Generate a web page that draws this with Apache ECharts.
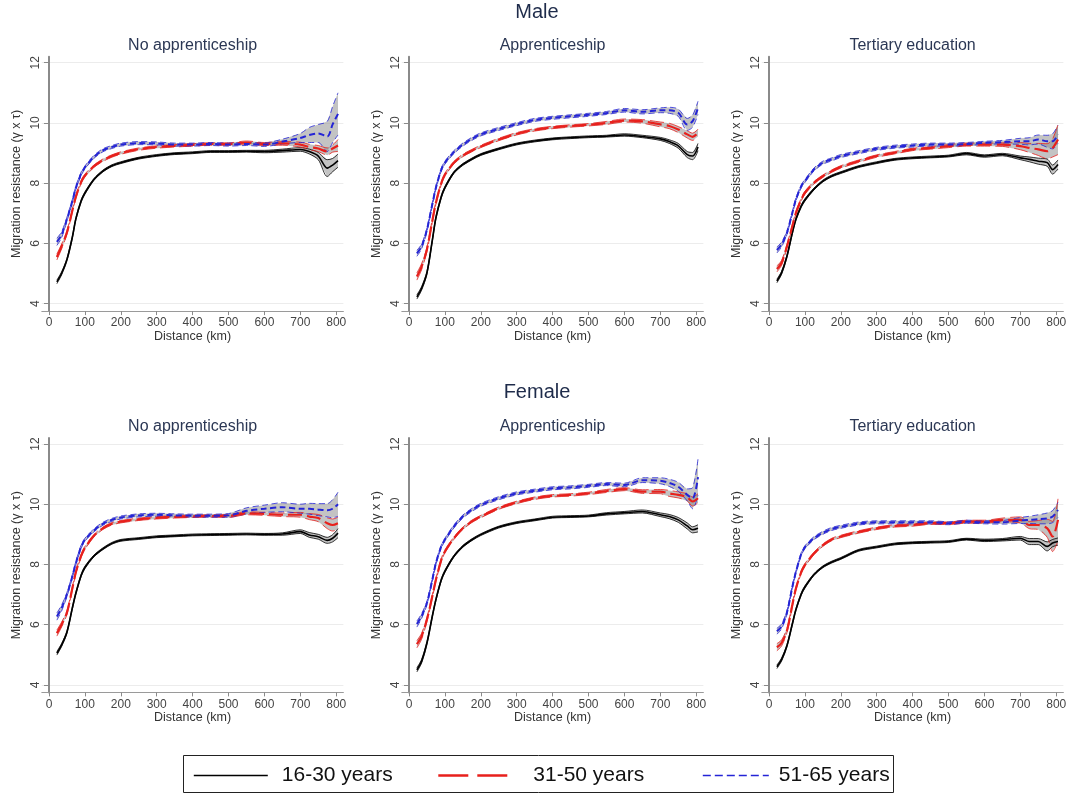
<!DOCTYPE html>
<html><head><meta charset="utf-8">
<script src="https://cdn.jsdelivr.net/npm/echarts@6/dist/echarts.min.js"></script>
<style>html,body{margin:0;padding:0;background:#fff}#c{width:1074px;height:797px}</style>
</head><body><div id="c"></div>
<script>
// ---------- data ----------
const distance = [22,35,50,65,75,90,100,125,150,175,200,250,300,350,400,450,500,550,600,650,700,725,750,775,790,805];
const xTicks = [0,100,200,300,400,500,600,700,800];
const yTicks = [4,6,8,10,12];
const sexTitles = ['Male','Female'];
const eduTitles = ['No apprenticeship','Apprenticeship','Tertiary education'];
const ageGroups = ['16-30 years','31-50 years','51-65 years'];

// Male, no apprenticeship
const m_noapp_16_30 = [4.72,5.0,5.46,6.2,6.82,7.42,7.67,8.12,8.4,8.58,8.68,8.83,8.92,8.98,9.01,9.05,9.05,9.06,9.05,9.08,9.12,9.05,8.9,8.5,8.6,8.75];
const m_noapp_16_30_ci = [0.06,0.05,0.04,0.04,0.04,0.04,0.04,0.03,0.03,0.03,0.03,0.03,0.03,0.03,0.03,0.03,0.03,0.03,0.04,0.05,0.06,0.08,0.12,0.28,0.22,0.22];
const m_noapp_31_50 = [5.55,5.89,6.36,7.08,7.55,8.05,8.25,8.56,8.76,8.9,9.0,9.13,9.2,9.24,9.27,9.3,9.3,9.35,9.3,9.32,9.28,9.2,9.15,9.05,9.15,9.25];
const m_noapp_31_50_ci = [0.1,0.08,0.06,0.05,0.05,0.05,0.05,0.04,0.04,0.04,0.04,0.04,0.04,0.04,0.04,0.04,0.04,0.05,0.05,0.06,0.08,0.09,0.1,0.12,0.12,0.2];
const m_noapp_51_65 = [6.05,6.28,6.8,7.4,7.85,8.32,8.52,8.87,9.09,9.2,9.28,9.33,9.32,9.28,9.28,9.3,9.28,9.3,9.28,9.38,9.5,9.6,9.65,9.55,9.95,10.3];
const m_noapp_51_65_ci = [0.12,0.1,0.07,0.06,0.06,0.06,0.05,0.05,0.05,0.05,0.05,0.05,0.05,0.05,0.05,0.05,0.05,0.05,0.06,0.08,0.15,0.25,0.3,0.5,0.6,0.7];

// Male, apprenticeship
const m_app_16_30 = [4.22,4.5,5.02,6.1,6.85,7.55,7.85,8.35,8.62,8.8,8.95,9.14,9.3,9.4,9.47,9.51,9.54,9.56,9.6,9.55,9.47,9.38,9.24,8.95,8.9,9.2];
const m_app_16_30_ci = [0.07,0.06,0.05,0.04,0.04,0.04,0.04,0.03,0.03,0.03,0.03,0.03,0.03,0.03,0.03,0.03,0.03,0.03,0.04,0.04,0.05,0.06,0.08,0.1,0.12,0.12];
const m_app_31_50 = [4.9,5.22,5.8,6.75,7.35,8.0,8.28,8.68,8.92,9.08,9.22,9.45,9.64,9.77,9.85,9.9,9.94,10.0,10.08,10.05,9.95,9.9,9.78,9.62,9.54,9.67];
const m_app_31_50_ci = [0.12,0.1,0.07,0.06,0.05,0.05,0.05,0.04,0.04,0.04,0.04,0.04,0.04,0.04,0.04,0.04,0.04,0.05,0.05,0.06,0.08,0.09,0.1,0.12,0.12,0.12];
const m_app_51_65 = [5.67,5.89,6.45,7.3,7.85,8.45,8.68,9.03,9.28,9.47,9.62,9.8,9.96,10.1,10.17,10.22,10.27,10.33,10.42,10.37,10.42,10.42,10.34,9.95,10.06,10.5];
const m_app_51_65_ci = [0.1,0.08,0.06,0.05,0.05,0.05,0.05,0.05,0.05,0.05,0.05,0.05,0.05,0.05,0.05,0.05,0.05,0.05,0.06,0.07,0.08,0.1,0.12,0.2,0.2,0.22];

// Male, tertiary education
const m_ter_16_30 = [4.75,5.02,5.57,6.35,6.8,7.24,7.44,7.8,8.07,8.24,8.35,8.55,8.68,8.79,8.84,8.87,8.9,8.98,8.9,8.95,8.84,8.79,8.73,8.68,8.45,8.62];
const m_ter_16_30_ci = [0.06,0.05,0.04,0.04,0.04,0.04,0.04,0.03,0.03,0.03,0.03,0.03,0.03,0.03,0.03,0.03,0.03,0.04,0.04,0.04,0.06,0.08,0.1,0.12,0.15,0.15];
const m_ter_31_50 = [5.15,5.35,5.9,6.57,7.01,7.46,7.68,8.01,8.23,8.4,8.54,8.73,8.9,9.01,9.12,9.17,9.23,9.28,9.28,9.28,9.23,9.17,9.12,9.06,9.17,9.45];
const m_ter_31_50_ci = [0.1,0.08,0.06,0.05,0.05,0.05,0.05,0.04,0.04,0.04,0.04,0.04,0.04,0.04,0.04,0.04,0.05,0.05,0.05,0.06,0.12,0.15,0.2,0.25,0.3,0.5];
const m_ter_51_65 = [5.78,5.96,6.35,7.01,7.46,7.9,8.07,8.45,8.68,8.79,8.9,9.03,9.14,9.21,9.25,9.28,9.28,9.3,9.34,9.36,9.39,9.39,9.45,9.39,9.39,9.62];
const m_ter_51_65_ci = [0.1,0.08,0.06,0.05,0.05,0.05,0.05,0.05,0.05,0.05,0.05,0.05,0.05,0.05,0.05,0.05,0.05,0.05,0.05,0.06,0.1,0.12,0.15,0.2,0.25,0.3];

// Female, no apprenticeship
const f_noapp_16_30 = [5.05,5.32,5.75,6.55,7.05,7.65,7.9,8.28,8.52,8.7,8.8,8.86,8.92,8.95,8.98,8.99,9.0,9.01,9.0,9.01,9.09,8.98,8.92,8.8,8.87,9.04];
const f_noapp_16_30_ci = [0.06,0.05,0.04,0.04,0.04,0.04,0.04,0.03,0.03,0.03,0.03,0.03,0.03,0.03,0.03,0.03,0.03,0.03,0.03,0.04,0.06,0.08,0.08,0.1,0.12,0.15];
const f_noapp_31_50 = [5.72,6.0,6.4,7.2,7.75,8.3,8.55,8.95,9.2,9.35,9.42,9.5,9.55,9.58,9.6,9.61,9.61,9.7,9.68,9.65,9.65,9.59,9.54,9.37,9.31,9.37];
const f_noapp_31_50_ci = [0.1,0.08,0.06,0.05,0.05,0.05,0.05,0.04,0.04,0.04,0.04,0.04,0.04,0.04,0.04,0.04,0.05,0.05,0.05,0.06,0.08,0.1,0.12,0.18,0.2,0.2];
const f_noapp_51_65 = [6.27,6.55,7.0,7.6,8.05,8.6,8.82,9.13,9.35,9.48,9.56,9.63,9.65,9.63,9.62,9.62,9.63,9.78,9.85,9.9,9.85,9.85,9.82,9.8,9.85,10.0];
const f_noapp_51_65_ci = [0.12,0.1,0.07,0.06,0.06,0.06,0.05,0.05,0.05,0.05,0.05,0.05,0.05,0.05,0.05,0.05,0.06,0.1,0.12,0.15,0.15,0.18,0.2,0.22,0.3,0.4];

// Female, apprenticeship
const f_app_16_30 = [4.5,4.78,5.39,6.28,6.83,7.49,7.77,8.27,8.6,8.82,8.99,9.24,9.39,9.48,9.57,9.59,9.61,9.68,9.72,9.76,9.65,9.59,9.48,9.28,9.15,9.2];
const f_app_16_30_ci = [0.07,0.06,0.05,0.04,0.04,0.04,0.04,0.03,0.03,0.03,0.03,0.03,0.03,0.03,0.03,0.03,0.03,0.04,0.04,0.05,0.06,0.07,0.08,0.1,0.1,0.12];
const f_app_31_50 = [5.35,5.61,6.17,6.94,7.49,8.15,8.43,8.87,9.2,9.43,9.59,9.87,10.06,10.2,10.28,10.31,10.36,10.44,10.5,10.42,10.42,10.36,10.31,10.23,10.09,10.2];
const f_app_31_50_ci = [0.12,0.1,0.07,0.06,0.05,0.05,0.05,0.04,0.04,0.04,0.04,0.04,0.04,0.04,0.04,0.04,0.04,0.05,0.05,0.06,0.07,0.1,0.1,0.12,0.15,0.15];
const f_app_51_65 = [6.02,6.28,6.72,7.49,8.04,8.6,8.82,9.26,9.59,9.81,9.98,10.2,10.36,10.45,10.53,10.56,10.61,10.67,10.64,10.8,10.78,10.71,10.58,10.31,10.2,10.9];
const f_app_51_65_ci = [0.1,0.08,0.06,0.05,0.05,0.05,0.05,0.05,0.05,0.05,0.05,0.05,0.05,0.05,0.05,0.05,0.05,0.05,0.06,0.08,0.1,0.12,0.15,0.2,0.35,0.6];

// Female, tertiary education
const f_ter_16_30 = [4.6,4.84,5.3,6.02,6.5,7.02,7.25,7.66,7.92,8.08,8.2,8.47,8.58,8.68,8.72,8.74,8.76,8.84,8.8,8.82,8.87,8.76,8.76,8.6,8.71,8.76];
const f_ter_16_30_ci = [0.06,0.05,0.04,0.04,0.04,0.04,0.04,0.03,0.03,0.03,0.03,0.03,0.03,0.03,0.03,0.03,0.03,0.03,0.04,0.04,0.06,0.1,0.1,0.15,0.12,0.12];
const f_ter_31_50 = [5.25,5.39,5.8,6.65,7.2,7.75,7.98,8.36,8.64,8.83,8.93,9.08,9.2,9.28,9.31,9.37,9.37,9.42,9.42,9.48,9.48,9.31,9.31,9.2,8.93,9.48];
const f_ter_31_50_ci = [0.12,0.1,0.07,0.06,0.05,0.05,0.05,0.04,0.04,0.04,0.04,0.04,0.04,0.04,0.04,0.04,0.04,0.05,0.05,0.06,0.1,0.12,0.15,0.3,0.5,0.7];
const f_ter_51_65 = [5.78,5.94,6.4,7.25,7.75,8.35,8.57,8.87,9.05,9.18,9.25,9.36,9.4,9.4,9.4,9.4,9.37,9.42,9.4,9.4,9.46,9.48,9.5,9.53,9.59,9.81];
const f_ter_51_65_ci = [0.1,0.08,0.06,0.05,0.05,0.05,0.05,0.05,0.05,0.05,0.05,0.05,0.05,0.05,0.05,0.05,0.05,0.05,0.05,0.06,0.1,0.12,0.15,0.18,0.2,0.25];

const panels = [
  {row:0, col:0, mid:[m_noapp_16_30,m_noapp_31_50,m_noapp_51_65], ci:[m_noapp_16_30_ci,m_noapp_31_50_ci,m_noapp_51_65_ci]},
  {row:0, col:1, mid:[m_app_16_30,m_app_31_50,m_app_51_65], ci:[m_app_16_30_ci,m_app_31_50_ci,m_app_51_65_ci]},
  {row:0, col:2, mid:[m_ter_16_30,m_ter_31_50,m_ter_51_65], ci:[m_ter_16_30_ci,m_ter_31_50_ci,m_ter_51_65_ci]},
  {row:1, col:0, mid:[f_noapp_16_30,f_noapp_31_50,f_noapp_51_65], ci:[f_noapp_16_30_ci,f_noapp_31_50_ci,f_noapp_51_65_ci]},
  {row:1, col:1, mid:[f_app_16_30,f_app_31_50,f_app_51_65], ci:[f_app_16_30_ci,f_app_31_50_ci,f_app_51_65_ci]},
  {row:1, col:2, mid:[f_ter_16_30,f_ter_31_50,f_ter_51_65], ci:[f_ter_16_30_ci,f_ter_31_50_ci,f_ter_51_65_ci]}
];

// ---------- styles / layout ----------
const FONT = "'Liberation Sans', Arial, sans-serif";
const styles = [
  {color:'#000000', width:1.6, type:'solid', legendType:'solid', legendWidth:1.6, textPad:9},
  {color:'#e8201c', width:2.2, type:[14,5], legendType:[30,9], legendWidth:2.6, textPad:20},
  {color:'#2424d6', width:2.0, type:[6,3.5], legendType:[8,4], legendWidth:1.6, textPad:5}
];
const SMOOTH = 0.3;
const GRID_W = 301.6, GRID_H = 254.4;
const colLeft = [41.8, 401.8, 761.8];
const rowTop = [56.7, 438];

const grids = [], xAxes = [], yAxes = [], series = [], titles = [];
titles.push({text: sexTitles[0], left: 537, top: 2, textAlign:'center', padding:0,
  textStyle:{fontSize:20, fontWeight:'normal', color:'#1e2b4a', fontFamily:FONT}});
titles.push({text: sexTitles[1], left: 537, top: 382, textAlign:'center', padding:0,
  textStyle:{fontSize:20, fontWeight:'normal', color:'#1e2b4a', fontFamily:FONT}});

panels.forEach((p, k) => {
  const left = colLeft[p.col], top = rowTop[p.row];
  grids.push({left: left, top: top, width: GRID_W, height: GRID_H, containLabel:false});
  titles.push({text: eduTitles[p.col], left: left + GRID_W/2, top: top - 19, textAlign:'center', padding:0,
    textStyle:{fontSize:16, fontWeight:'normal', color:'#2b3754', fontFamily:FONT}});
  xAxes.push({
    type:'value', gridIndex:k, min:-20, max:820,
    axisLine:{show:true, lineStyle:{color:'#9a9a9a', width:1}},
    axisTick:{show:true, customValues:xTicks, length:4, lineStyle:{color:'#8a8a8a'}},
    axisLabel:{customValues:xTicks, fontSize:12, color:'#444', margin:6, fontFamily:FONT},
    splitLine:{show:false},
    name:'Distance (km)', nameLocation:'middle', nameGap:19,
    nameTextStyle:{fontSize:12.5, color:'#333', fontFamily:FONT}
  });
  yAxes.push({
    type:'value', gridIndex:k, min:3.75, max:12.2, offset:-6.5,
    axisLine:{show:true, lineStyle:{color:'#8a8a8a', width:2}},
    axisTick:{show:true, customValues:yTicks, length:5, lineStyle:{color:'#8a8a8a'}},
    axisLabel:{customValues:yTicks, rotate:90, fontSize:12, color:'#444', margin:7, fontFamily:FONT},
    splitLine:{show:true, lineStyle:{color:'#ececec', width:1}},
    name:'Migration resistance (γ x τ)', nameLocation:'middle', nameGap:25,
    nameTextStyle:{fontSize:12.5, color:'#333', fontFamily:FONT}
  });

  p.mid.forEach((mid, g) => {
    const ci = p.ci[g];
    const lo = mid.map((v, i) => v - ci[i]);
    const hi = mid.map((v, i) => v + ci[i]);
    const st = styles[g];
    // grey confidence band
    series.push({
      type:'custom', xAxisIndex:k, yAxisIndex:k, silent:true, z:1,
      data: distance.map((d, i) => [d, lo[i], hi[i]]),
      encode:{x:0, y:[1,2]},
      renderItem: (params, api) => {
        if (params.dataIndex !== 0) return null;
        const pts = [];
        for (let i = 0; i < distance.length; i++) pts.push(api.coord([distance[i], lo[i]]));
        for (let i = distance.length - 1; i >= 0; i--) pts.push(api.coord([distance[i], hi[i]]));
        return {type:'polygon', shape:{points:pts}, style:{fill:'rgba(135,135,135,0.5)', stroke:null}};
      }
    });
    // CI bound lines
    [lo, hi].forEach(b => {
      series.push({
        type:'line', name: ageGroups[g] + ' CI', xAxisIndex:k, yAxisIndex:k, silent:true, z:2,
        data: distance.map((d, i) => [d, b[i]]), symbol:'none', smooth:SMOOTH,
        lineStyle:{color:st.color, width:0.8, type:st.type}
      });
    });
    // point estimate
    series.push({
      type:'line', name: ageGroups[g], xAxisIndex:k, yAxisIndex:k, silent:true, z:3,
      data: distance.map((d, i) => [d, mid[i]]), symbol:'none', smooth:SMOOTH,
      lineStyle:{color:st.color, width:st.width, type:st.type}
    });
  });
});

const legendLefts = [193, 437, 702];
const legends = ageGroups.map((name, g) => ({
  data:[name], left: legendLefts[g], top: 765, padding:0, orient:'horizontal',
  itemWidth: g === 2 ? 66 : (g === 1 ? 70 : 74), itemHeight:14, selectedMode:false,
  itemStyle:{color:'rgba(0,0,0,0)', borderColor:'rgba(0,0,0,0)', borderWidth:0},
  lineStyle:{color: styles[g].color, width: styles[g].legendWidth, type: styles[g].legendType},
  textStyle:{fontSize:21, color:'#111', fontFamily:FONT, padding:[0,0,0,styles[g].textPad]}
}));

const chart = echarts.init(document.getElementById('c'), null, {renderer:'canvas'});
chart.setOption({
  backgroundColor:'#ffffff',
  animation:false,
  title: titles,
  grid: grids,
  xAxis: xAxes,
  yAxis: yAxes,
  legend: legends,
  graphic: [{type:'rect', shape:{x:183.5, y:755.5, width:710, height:37},
    style:{fill:'none', stroke:'#222', lineWidth:1}, silent:true, z:-1}],
  series: series
});
</script></body></html>
